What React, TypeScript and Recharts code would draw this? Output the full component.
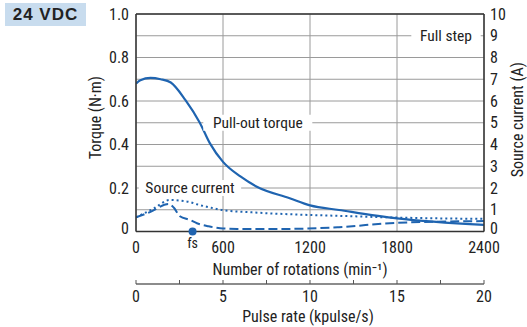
import React from 'react'
import {
  ComposedChart,
  Line,
  XAxis,
  YAxis,
  CartesianGrid,
  ReferenceDot,
  ReferenceLine,
} from 'recharts'

// Pull-out torque (N·m) vs rotations (min^-1)
const torqueRpm = [0, 30, 100, 170, 240, 340, 440, 510, 600, 720, 830, 1060, 1200, 1400, 1800, 2400]
const torqueVal = [0.68, 0.695, 0.706, 0.7, 0.685, 0.605, 0.5, 0.405, 0.32, 0.253, 0.207, 0.153, 0.12, 0.099, 0.06, 0.03]

// Source current (A), dotted curve
const dotRpm = [0, 120, 234, 300, 372, 420, 500, 600, 800, 1200, 1400, 1800, 2400]
const dotVal = [0.65, 1.05, 1.45, 1.42, 1.35, 1.25, 1.12, 0.98, 0.88, 0.76, 0.72, 0.64, 0.58]

// Source current (A), dashed curve
const dashRpm = [0, 100, 223, 260, 303, 372, 420, 500, 580, 700, 1060, 1400, 1800, 2400]
const dashVal = [0.65, 0.9, 1.27, 1.1, 0.7, 0.53, 0.38, 0.24, 0.15, 0.12, 0.12, 0.2, 0.4, 0.48]

const rpmTicks = [0, 600, 1200, 1800, 2400]
const torqueTicks = [0, 0.1, 0.2, 0.3, 0.4, 0.5, 0.6, 0.7, 0.8, 0.9, 1.0]
const currentTicks = [0, 1, 2, 3, 4, 5, 6, 7, 8, 9, 10]
const pulseTicks = [0, 2.5, 5, 7.5, 10, 12.5, 15, 17.5, 20]

const fsRpm = 390

const BLUE = '#1f64b0'
const GRID = '#9a9a9a'
const AXIS = '#333'
const FONT = "'Liberation Sans Narrow', 'Roboto Condensed', Roboto, sans-serif"

const toPoints = (xs: number[], ys: number[]) => xs.map((rpm, i) => ({ rpm, v: ys[i] }))

const torqueData = toPoints(torqueRpm, torqueVal)
const dotData = toPoints(dotRpm, dotVal)
const dashData = toPoints(dashRpm, dashVal)
// invisible series so the pulse axis gets a scale
const pulseData = pulseTicks.map((p) => ({ p, v: 0 }))

// text on a grid line, with white background
const Tag = (props: any) => {
  const vb = props.viewBox || {}
  const cx = vb.x + (vb.width || 0) / 2
  const cy = vb.y + (vb.height || 0) / 2
  const w = props.text.length * 6.6 + 10
  return (
    <g>
      <rect x={cx - w / 2} y={cy - 8} width={w} height={16} fill="#fff" />
      <text x={cx} y={cy} dy="0.35em" textAnchor="middle" fontSize={15.5} fill="#222" fontFamily={FONT}>
        {props.text}
      </text>
    </g>
  )
}

const PulseTick = (props: any) => {
  const { x, y, payload } = props
  return (
    <g>
      <line x1={x} x2={x} y1={y - 4} y2={y} stroke="#555" strokeWidth={1} />
      {payload.value % 5 === 0 && (
        <text x={x} y={y + 12} dy="0.35em" textAnchor="middle" fontSize={16} fill="#222" fontFamily={FONT}>
          {payload.value}
        </text>
      )}
    </g>
  )
}

// y tick labels; the zero label sits a bit above the base line
const YTick = (props: any) => {
  const { x, y, payload, textAnchor, torque } = props
  const v = payload.value
  let s = String(v)
  if (torque) {
    const n = Math.round(v * 10)
    s = n % 2 !== 0 ? '' : n === 0 ? '0' : v.toFixed(1)
  }
  if (!s) return null
  const lift = v === 0 ? -3 : 0
  return (
    <text x={x} y={y + lift} dy="0.355em" textAnchor={textAnchor} fontSize={16} fill="#222" fontFamily={FONT}>
      {s}
    </text>
  )
}

export default function App() {
  const tickStyle = { fill: '#222', fontSize: 16, fontFamily: FONT }
  return (
    <div style={{ position: 'absolute', left: 0, top: 0, width: 527, height: 327, background: '#fff', fontFamily: FONT }}>
      <div
        style={{
          position: 'absolute',
          left: 5,
          top: 3,
          width: 81,
          height: 23,
          background: '#c8dcee',
          color: '#222',
          fontFamily: "'Liberation Sans', Arial, sans-serif",
          fontWeight: 'bold',
          fontSize: 17,
          letterSpacing: 1,
          lineHeight: '23px',
          textAlign: 'center',
        }}
      >
        24 VDC
      </div>
      <ComposedChart width={527} height={327} margin={{ top: 14, right: 0, bottom: 0, left: 0 }}>
        <CartesianGrid xAxisId="a_rpm" yAxisId="left" stroke={GRID} vertical horizontal />
        <XAxis
          xAxisId="b_pulse"
          dataKey="p"
          type="number"
          domain={[0, 20]}
          ticks={pulseTicks}
          interval={0}
          allowDataOverflow
          axisLine={{ stroke: '#666', strokeWidth: 1.5 }}
          tickLine={false}
          tickSize={0}
          tickMargin={0}
          height={43}
          tick={<PulseTick />}
          label={{
            value: 'Pulse rate (kpulse/s)',
            position: 'insideBottom',
            offset: 5,
            dx: -2,
            fontSize: 16,
            fill: '#222',
            fontFamily: FONT,
          }}
        />
        <XAxis
          xAxisId="a_rpm"
          dataKey="rpm"
          type="number"
          domain={[0, 2400]}
          ticks={rpmTicks}
          interval={0}
          allowDataOverflow
          axisLine={{ stroke: AXIS, strokeWidth: 1.5 }}
          tickLine={false}
          tickSize={0}
          tickMargin={10}
          height={52.5}
          tick={tickStyle}
          label={{
            value: 'Number of rotations (min⁻¹)',
            position: 'insideBottom',
            offset: 9,
            dx: -10,
            fontSize: 16,
            fill: '#222',
            fontFamily: FONT,
          }}
        />
        <YAxis
          yAxisId="left"
          type="number"
          domain={[0, 1]}
          ticks={torqueTicks}
          interval={0}
          allowDataOverflow
          width={136}
          axisLine={{ stroke: AXIS, strokeWidth: 1.5 }}
          tickLine={false}
          tickSize={0}
          tickMargin={7}
          tick={<YTick torque />}
          label={{
            value: 'Torque (N·m)',
            angle: -90,
            position: 'center',
            dx: 27,
            dy: -5,
            fontSize: 16,
            fill: '#222',
            fontFamily: FONT,
          }}
        />
        <YAxis
          yAxisId="right"
          orientation="right"
          type="number"
          domain={[0, 10]}
          ticks={currentTicks}
          interval={0}
          allowDataOverflow
          width={43}
          axisLine={{ stroke: AXIS, strokeWidth: 1.5 }}
          tickLine={false}
          tickSize={0}
          tickMargin={6}
          tick={<YTick />}
          label={{
            value: 'Source current (A)',
            angle: -90,
            position: 'center',
            dx: 12,
            dy: -3,
            fontSize: 16,
            fill: '#222',
            fontFamily: FONT,
          }}
        />
        <ReferenceLine xAxisId="a_rpm" yAxisId="left" y={1} stroke={AXIS} strokeWidth={1.5} />

        <ReferenceDot xAxisId="a_rpm" yAxisId="left" x={840} y={0.5} r={0} stroke="none" label={<Tag text="Pull-out torque" />} />
        <ReferenceDot xAxisId="a_rpm" yAxisId="left" x={2138} y={0.9} r={0} stroke="none" label={<Tag text="Full step" />} />
        <ReferenceDot xAxisId="a_rpm" yAxisId="left" x={372} y={0.2} r={0} stroke="none" label={<Tag text="Source current" />} />

        <Line
          xAxisId="b_pulse"
          yAxisId="left"
          data={pulseData}
          dataKey="v"
          stroke="none"
          dot={false}
          activeDot={false}
          legendType="none"
          isAnimationActive={false}
        />
        <Line
          xAxisId="a_rpm"
          yAxisId="left"
          data={torqueData}
          dataKey="v"
          type="monotone"
          stroke={BLUE}
          strokeWidth={2.2}
          dot={false}
          isAnimationActive={false}
        />
        <Line
          xAxisId="a_rpm"
          yAxisId="right"
          data={dotData}
          dataKey="v"
          type="monotone"
          stroke={BLUE}
          strokeWidth={2}
          strokeDasharray="2 3"
          dot={false}
          isAnimationActive={false}
        />
        <Line
          xAxisId="a_rpm"
          yAxisId="right"
          data={dashData}
          dataKey="v"
          type="monotone"
          stroke={BLUE}
          strokeWidth={2}
          strokeDasharray="9 4"
          dot={false}
          isAnimationActive={false}
        />
        <ReferenceDot
          xAxisId="a_rpm"
          yAxisId="left"
          x={fsRpm}
          y={0}
          r={4}
          fill={BLUE}
          stroke="none"
          label={{ value: 'fs', position: 'bottom', offset: 3, fontSize: 14, fill: '#222', fontFamily: FONT }}
        />
      </ComposedChart>
    </div>
  )
}
